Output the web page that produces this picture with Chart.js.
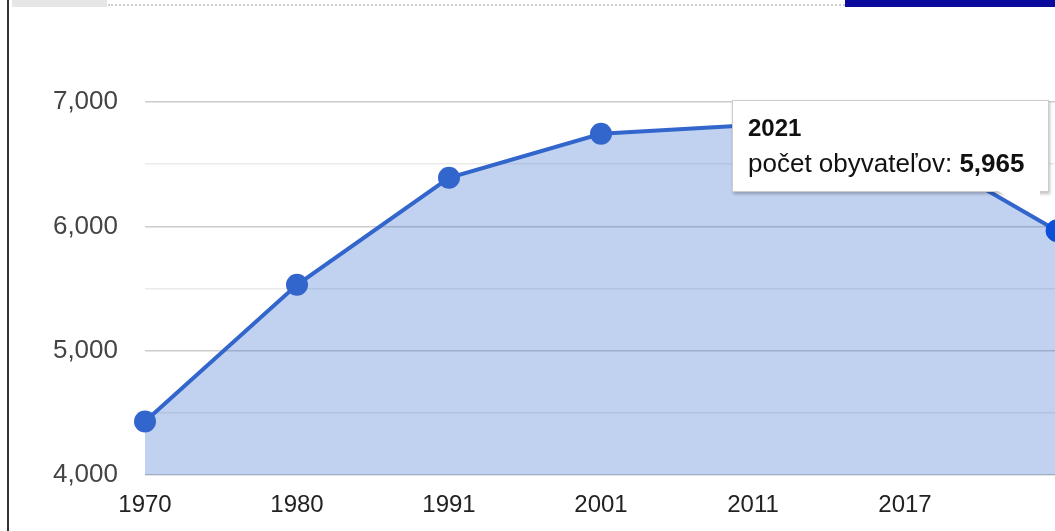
<!DOCTYPE html>
<html>
<head>
<meta charset="utf-8">
<script src="https://cdn.jsdelivr.net/npm/chart.js@4.4.0/dist/chart.umd.js"></script>
<style>
    html, body { margin: 0; padding: 0; width: 1055px; height: 531px; overflow: hidden; background: #fff; font-family: Arial, "Liberation Sans", sans-serif; }
    #wrap { position: absolute; left: 0; top: 0; width: 1120px; height: 531px; }
    #edge { position: absolute; left: 7px; top: 0; width: 2px; height: 531px; background: #333; }
    #topGray { position: absolute; left: 12px; top: 0; width: 95px; height: 7px; background: #e6e6e6; }
    #topDots { position: absolute; left: 108px; top: 4px; width: 737px; border-top: 2px dotted #ccc; }
    #topBlue { position: absolute; left: 845px; top: 0; width: 210px; height: 7px; background: #0a0a9c; }
    #tip { position: absolute; display: none; width: 317px; height: 92px; background: #fff; border: 1px solid #ccc; box-shadow: 1px 2px 3px rgba(0,0,0,0.25); box-sizing: border-box; padding: 9px 0 0 15px; color: #111; }
    #tip .t { font-weight: bold; font-size: 24px; line-height: 35px; }
    #tip .b { font-size: 26px; line-height: 36px; }
    #tip .v { font-weight: bold; }
    #tail { position: absolute; right: 8px; bottom: -24px; width: 0; height: 0; border-top: 24px solid #fff; border-left: 42px solid transparent; }
</style>
</head>
<body>
<div id="topGray"></div>
<div id="topDots"></div>
<div id="topBlue"></div>
<div id="wrap"><canvas id="popChart"></canvas></div>
<div id="edge"></div>
<div id="tip">
    <div class="t" id="tipTitle"></div>
    <div class="b">počet obyvateľov: <span class="v" id="tipValue"></span></div>
    <div id="tail"></div>
</div>
<script>
// Data
const years = ['1970', '1980', '1991', '2001', '2011', '2017', '2021'];
const population = [4430, 5530, 6390, 6745, 6815, 6670, 5965];
const seriesLabel = 'počet obyvateľov';
const yMin = 4000;
const yMax = 7000;

const tip = document.getElementById('tip');

function externalTooltip(context) {
    const model = context.tooltip;
    if (model.opacity === 0 || !model.dataPoints || !model.dataPoints.length) {
        tip.style.display = 'none';
        return;
    }
    const idx = model.dataPoints[0].dataIndex;
    document.getElementById('tipTitle').textContent = years[idx];
    document.getElementById('tipValue').textContent = population[idx].toLocaleString('en-US');
    tip.style.display = 'block';
    tip.style.left = (model.caretX - 325) + 'px';
    tip.style.top = (model.caretY - 131) + 'px';
}

const chart = new Chart(document.getElementById('popChart'), {
    type: 'line',
    data: {
        labels: years,
        datasets: [{
            label: seriesLabel,
            data: population,
            borderColor: '#3366cc',
            backgroundColor: 'rgba(51, 102, 204, 0.3)',
            borderWidth: 4,
            fill: 'start',
            tension: 0,
            pointRadius: 11,
            pointHoverRadius: 11,
            pointBackgroundColor: '#3366cc',
            pointBorderWidth: 0,
            clip: false
        }]
    },
    options: {
        responsive: true,
        maintainAspectRatio: false,
        animation: false,
        events: [],
        layout: { padding: { left: 0, right: 63, top: 102, bottom: 0 } },
        plugins: {
            legend: { display: false },
            tooltip: { enabled: false, external: externalTooltip }
        },
        scales: {
            x: {
                offset: false,
                grid: { display: false, drawTicks: false },
                border: { display: false },
                afterFit: (s) => { s.height = 56; },
                ticks: {
                    autoSkip: false,
                    maxRotation: 0,
                    padding: 16,
                    color: '#222',
                    font: { family: 'Arial, "Liberation Sans"', size: 24 },
                    callback: (v, i) => (i === years.length - 1 ? '' : years[i])
                }
            },
            y: {
                min: yMin,
                max: yMax,
                afterFit: (s) => { s.width = 145; },
                grid: {
                    drawTicks: false,
                    lineWidth: 1.5,
                    color: (ctx) => (ctx.tick && ctx.tick.value % 1000 === 0 ? '#cccccc' : '#ebebeb')
                },
                border: { display: false },
                ticks: {
                    stepSize: 500,
                    padding: 27,
                    color: '#444',
                    font: { family: 'Arial, "Liberation Sans"', size: 26 },
                    callback: (v) => (v % 1000 === 0 ? v.toLocaleString('en-US') : '')
                }
            }
        }
    }
});

// Show the tooltip on the last year, as in the screenshot
const last = years.length - 1;
chart.setActiveElements([{ datasetIndex: 0, index: last }]);
chart.tooltip.setActiveElements([{ datasetIndex: 0, index: last }], { x: 0, y: 0 });
chart.update();
</script>
</body>
</html>
